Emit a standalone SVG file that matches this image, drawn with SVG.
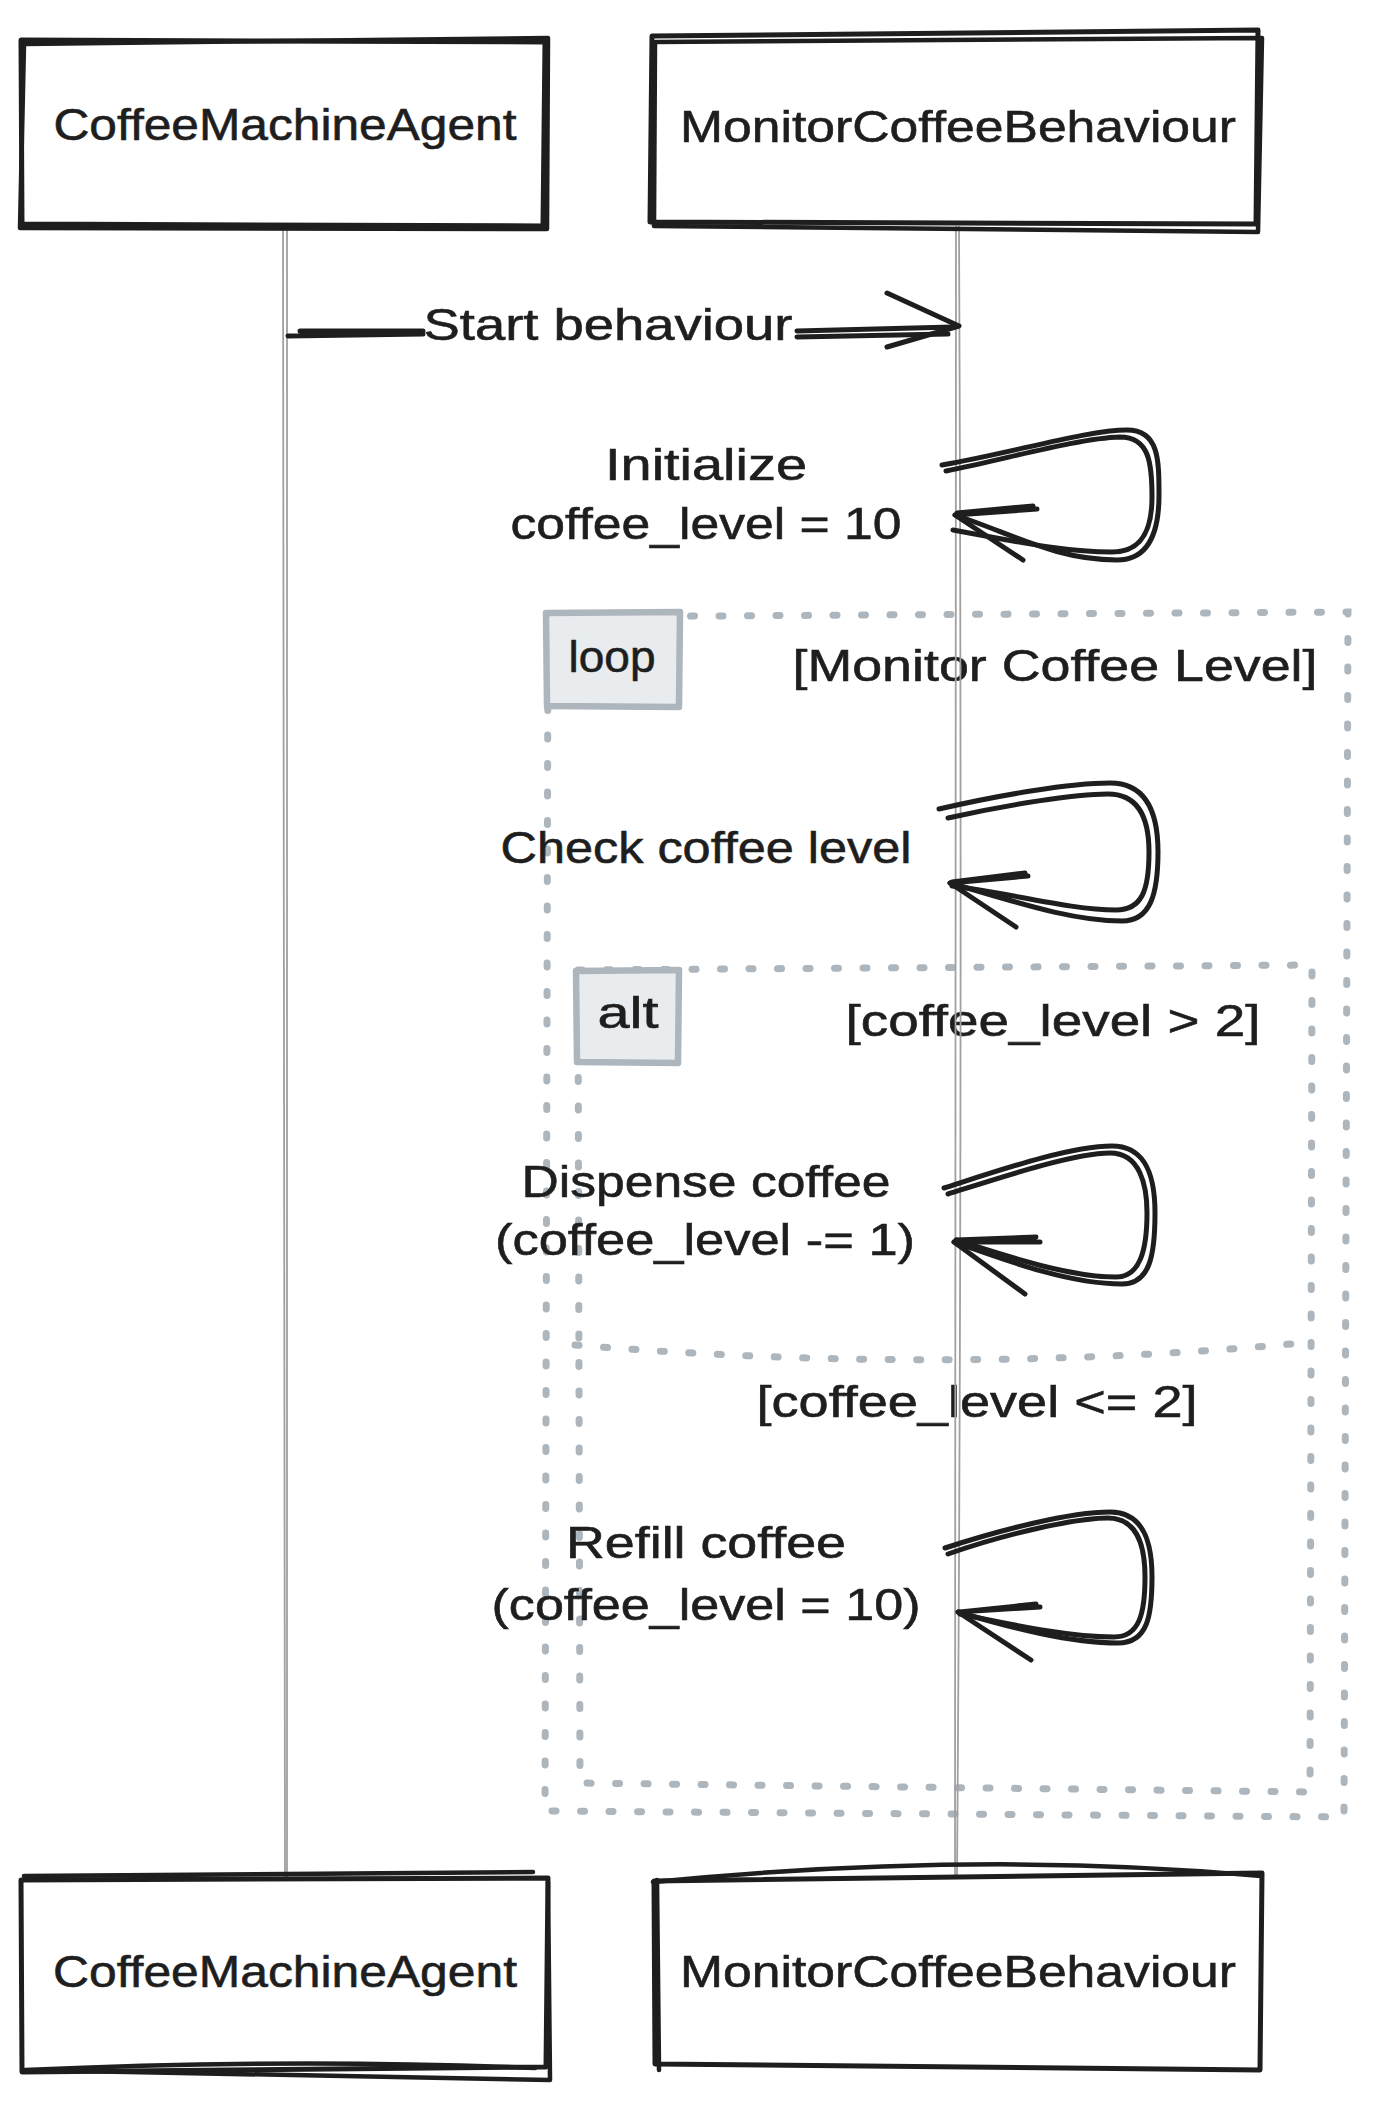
<svg xmlns="http://www.w3.org/2000/svg" width="1385" height="2103" viewBox="0 0 1385 2103">
  <style>
    .bg { fill: #ffffff; }
    .box { fill: #ffffff; stroke: #1e1e1e; stroke-width: 5; stroke-linejoin: round; stroke-linecap: round; }
    .box2 { fill: none; stroke: #1e1e1e; stroke-width: 4.5; stroke-linejoin: round; stroke-linecap: round; }
    .frame { fill: none; stroke: #adb5bd; stroke-width: 7; stroke-linecap: round; stroke-dasharray: 4 24.5; }
    .tag { fill: #e9ecef; stroke: #adb5bd; stroke-width: 6.5; stroke-linejoin: round; }
    .life { fill: none; stroke: #a0a0a0; stroke-width: 1.8; }
    .msg { fill: none; stroke: #1e1e1e; stroke-width: 5; stroke-linecap: round; stroke-linejoin: round; }
    .t { font-family: "Liberation Sans", Arial, sans-serif; font-size: 45px; fill: #1e1e1e; text-anchor: middle; stroke: #1e1e1e; stroke-width: 0.6; }
  </style>
  <rect class="bg" x="0" y="0" width="1385" height="2103"/>

  <!-- loop frame -->
  <g id="frame-loop">
    <path class="frame" d="M 548 617 L 1348 612 L 1344 1817 L 545 1811 Z"/>
    <path class="tag" d="M 546 613 L 680 612 L 679 707 L 547 706 Z"/>
    <text class="t" x="612" y="672" textLength="87" lengthAdjust="spacingAndGlyphs">loop</text>
    <text class="t" x="1055" y="681" textLength="525" lengthAdjust="spacingAndGlyphs">[Monitor Coffee Level]</text>
  </g>

  <!-- alt frame -->
  <g id="frame-alt">
    <path class="frame" d="M 578 970 L 1312 965 L 1310 1792 L 580 1783 Z"/>
    <path class="frame" d="M 575 1345 Q 957 1376 1312 1342"/>
    <path class="tag" d="M 576 971 L 679 970 L 678 1063 L 577 1062 Z"/>
    <text class="t" x="628" y="1028" textLength="61" lengthAdjust="spacingAndGlyphs">alt</text>
    <text class="t" x="1053" y="1036" textLength="415" lengthAdjust="spacingAndGlyphs">[coffee_level &gt; 2]</text>
    <text class="t" x="977" y="1417" textLength="441" lengthAdjust="spacingAndGlyphs">[coffee_level &lt;= 2]</text>
  </g>

  <!-- connectors: lifelines and messages -->
  <g id="connectors">
    <path class="life" d="M 283 226 L 285 1878"/>
    <path class="life" d="M 287 226 Q 289 1000 287 1878"/>
    <path class="life" d="M 956 226 L 955 1878"/>
    <path class="life" d="M 959 226 Q 963 1100 957 1878"/>

    <!-- Start behaviour -->
    <g id="msg-start">
      <path class="msg" d="M 288 336 L 423 334 M 300 331 L 423 331"/>
      <path class="msg" d="M 797 331 L 953 327 M 797 337 L 948 334"/>
      <path class="msg" d="M 887 293 L 959 326 L 887 347"/>
      <text class="t" x="608" y="340" textLength="369" lengthAdjust="spacingAndGlyphs">Start behaviour</text>
    </g>

    <!-- Initialize -->
    <g id="msg-init">
      <path class="msg" d="M 942 465 C 1012 453 1087 430 1127 430 C 1159 430 1159 460 1159 495 C 1159 535 1147 560 1117 560 C 1057 560 1015 535 955 515"/>
      <path class="msg" d="M 946 471 C 1010 458 1080 438 1120 437 C 1150 437 1152 465 1152 497 C 1152 530 1142 552 1112 552 C 1060 552 1010 540 953 530"/>
      <path class="msg" d="M 1037 509 L 955 515 L 1023 560 M 1033 506 L 957 513"/>
      <text class="t" x="706" y="480" textLength="202" lengthAdjust="spacingAndGlyphs">Initialize</text>
      <text class="t" x="706" y="539" textLength="391" lengthAdjust="spacingAndGlyphs">coffee_level = 10</text>
    </g>

    <!-- Check coffee level -->
    <g id="msg-check">
      <path class="msg" d="M 939 809 C 1000 795 1070 783 1110 783 C 1148 783 1158 815 1158 852 C 1158 895 1150 921 1122 921 C 1070 921 1010 900 950 883"/>
      <path class="msg" d="M 948 818 C 1005 805 1075 794 1108 794 C 1140 794 1149 820 1149 852 C 1149 890 1142 910 1116 910 C 1070 910 1010 893 952 886"/>
      <path class="msg" d="M 1028 876 L 950 883 L 1016 927 M 1025 873 L 952 882"/>
      <text class="t" x="706" y="863" textLength="411" lengthAdjust="spacingAndGlyphs">Check coffee level</text>
    </g>

    <!-- Dispense coffee -->
    <g id="msg-dispense">
      <path class="msg" d="M 944 1188 C 1000 1170 1070 1146 1112 1146 C 1148 1146 1155 1180 1155 1213 C 1155 1255 1150 1284 1122 1284 C 1070 1284 1010 1262 954 1242"/>
      <path class="msg" d="M 948 1194 C 1005 1176 1075 1153 1110 1153 C 1140 1153 1147 1185 1147 1213 C 1147 1250 1140 1277 1116 1277 C 1070 1277 1012 1258 956 1240"/>
      <path class="msg" d="M 1040 1242 L 954 1242 L 1025 1294 M 1036 1237 L 956 1240"/>
      <text class="t" x="706" y="1197" textLength="369" lengthAdjust="spacingAndGlyphs">Dispense coffee</text>
      <text class="t" x="705" y="1255" textLength="420" lengthAdjust="spacingAndGlyphs">(coffee_level -= 1)</text>
    </g>

    <!-- Refill coffee -->
    <g id="msg-refill">
      <path class="msg" d="M 945 1548 C 1000 1530 1070 1512 1110 1512 C 1145 1512 1152 1545 1152 1577 C 1152 1615 1148 1643 1118 1643 C 1070 1643 1012 1628 958 1612"/>
      <path class="msg" d="M 948 1554 C 1005 1534 1075 1518 1108 1518 C 1138 1518 1145 1548 1145 1577 C 1145 1612 1140 1637 1114 1637 C 1068 1637 1014 1625 960 1614"/>
      <path class="msg" d="M 1040 1607 L 958 1612 L 1031 1660 M 1036 1604 L 960 1612"/>
      <text class="t" x="706" y="1558" textLength="280" lengthAdjust="spacingAndGlyphs">Refill coffee</text>
      <text class="t" x="706" y="1620" textLength="429" lengthAdjust="spacingAndGlyphs">(coffee_level = 10)</text>
    </g>
  </g>

  <!-- participant boxes -->
  <g id="node-cma-top">
    <path class="box" d="M 21 40 L 545 42 L 543 226 L 22 224 Z"/>
    <path class="box2" d="M 24 44 L 548 38 L 547 229 L 20 228 Z"/>
    <text class="t" x="285" y="140" textLength="463" lengthAdjust="spacingAndGlyphs">CoffeeMachineAgent</text>
  </g>
  <g id="node-mcb-top">
    <path class="box" d="M 652 36 L 1258 30 L 1256 224 L 650 222 Z"/>
    <path class="box2" d="M 655 42 L 1262 38 L 1258 232 L 654 226 Z"/>
    <text class="t" x="958" y="142" textLength="556" lengthAdjust="spacingAndGlyphs">MonitorCoffeeBehaviour</text>
  </g>
  <g id="node-cma-bottom">
    <path class="box" d="M 21 1880 L 548 1878 L 546 2067 L 22 2072 Z"/>
    <path class="box2" d="M 24 1876 L 533 1872 M 548 1882 L 550 2080 L 25 2070 Q 290 2058 535 2068"/>
    <text class="t" x="285" y="1987" textLength="464" lengthAdjust="spacingAndGlyphs">CoffeeMachineAgent</text>
  </g>
  <g id="node-mcb-bottom">
    <path class="box" d="M 654 1881 L 1262 1873 L 1260 2070 L 655 2064 Z"/>
    <path class="box2" d="M 653 1882 Q 980 1850 1261 1876 M 657 1880 L 659 2070"/>
    <text class="t" x="958" y="1987" textLength="556" lengthAdjust="spacingAndGlyphs">MonitorCoffeeBehaviour</text>
  </g>
</svg>
